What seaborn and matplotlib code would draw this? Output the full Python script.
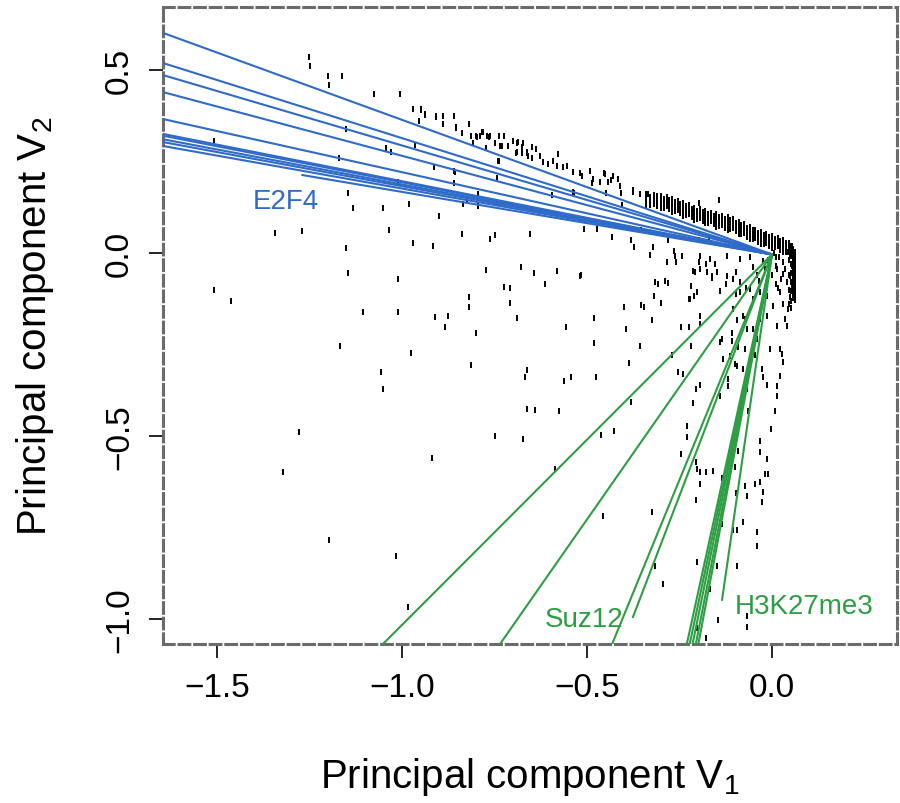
import matplotlib
matplotlib.use("Agg")
import matplotlib.pyplot as plt
import seaborn as sns

# scattered genes
cloud_x = [
    -1.251, -1.249, -1.200, -1.197, -1.162, -1.076, -1.005, -0.970, -0.949, -0.938,
    -0.954, -0.908, -0.889, -0.859, -0.889, -0.854, -0.838, -0.819, -0.814, -0.800,
    -0.784, -0.770, -0.762, -0.738, -0.724, -0.700, -0.686, -0.673, -0.749, -0.730,
    -0.714, -0.692, -0.676, -0.662, -0.808, -0.773, -1.508, -1.151, -1.043, -1.030,
    -0.965, -1.170, -0.914, -0.859, -0.859, -0.743, -0.738, -1.146, -1.132, -1.051,
    -1.011, -0.981, -0.900, -0.835, -0.824, -0.795, -0.795, -0.743, -1.343, -1.270,
    -1.151, -1.035, -0.970, -0.916, -0.838, -0.762, -0.749, -0.654,
    -0.949, -0.938, -0.908, -0.854, -0.797, -0.789, -0.781, -0.765, -0.735, -0.689,
    -0.676, -0.689, -0.662, -0.649, -0.638, -0.659, -0.649, -0.627, -0.619, -0.605,
    -0.592, -0.578, -0.581, -0.565, -0.554, -0.538, -0.514, -0.492, -0.484, -0.465,
    -0.451, -0.443, -0.430, -0.416, -0.411, -0.376, -0.357, -0.335, -0.311, -0.538,
    -0.741, -0.857, -0.795, -0.595,
    -1.146, -1.011, -1.508, -1.462, -1.105, -1.011, -0.911, -0.876, -0.884, -1.168,
    -0.976, -1.057, -1.051, -1.278, -0.919, -1.322, -1.197, -1.016, -0.984,
    -0.773, -0.678, -0.643, -0.581, -0.516, -0.819, -0.819, -0.724, -0.708, -0.708,
    -0.614, -0.689, -0.800, -0.814, -0.662, -0.668, -0.557, -0.481, -0.481, -0.543,
    -0.562, -0.476, -0.662, -0.641, -0.576, -0.749, -0.673, -0.586, -0.462, -0.427,
    -0.381, -0.386, -0.357, -0.395, -0.400, -0.324, -0.354, -0.346, -0.300, -0.319,
    -0.316, -0.289, -0.330, -0.284, -0.259, -0.265, -0.270, -0.254, -0.241, -0.219,
    -0.246, -0.224, -0.219, -0.224, -0.211, -0.214, -0.197, -0.178, -0.195, -0.195,
    -0.205, -0.195, -0.214, -0.230, -0.230, -0.246, -0.205, -0.203, -0.195, -0.178,
    -0.159, -0.195, -0.205, -0.324, -0.457, -0.135, -0.135, -0.105, -0.078, -0.100,
    -0.092, -0.073, -0.097, -0.068, -0.119, -0.141, -0.078, -0.095, -0.114, -0.132,
    -0.108, -0.108, -0.135, -0.141, -0.105, -0.095, -0.078, -0.068, -0.065, -0.068,
    -0.295, -0.316, -0.203, -0.149, -0.168, -0.146, -0.203, -0.178, -0.068, -0.068,
    -0.095, -0.041, -0.041, -0.095, -0.046, -0.024, -0.027, -0.032, -0.019, -0.011,
    -0.032, -0.014, -0.032, -0.003, 0.008, 0.014, 0.014, -0.014, -0.024, -0.027,
    0.022, 0.027, 0.022, 0.030, -0.005, -0.046, -0.059, -0.041, -0.051, 0.014,
    0.035, 0.041, -0.032, -0.014, 0.003, 0.030, 0.043, 0.049, 0.054, 0.049,
    0.054, 0.041, 0.014, 0.022, -0.014, -0.032, -0.051, -0.086, -0.059, -0.086,
    -0.105, -0.122, -0.149, -0.162, -0.176, -0.195, -0.122, -0.086, -0.059, -0.168,
    -0.154, -0.195, -0.243, -0.203, -0.222, -0.073, -0.073, -0.119, -0.100, -0.092,
    -0.535, -0.519, -0.486, -0.454, -0.449, -0.435, -0.408, -0.405, -0.376, -0.354,
    -0.432, -0.381, -0.322, -0.281, -0.262, -0.197, -0.170, -0.143, -0.197, -0.519,
    -0.508, -0.473, -0.373, -0.308, -0.281, -0.208, -0.162, -0.124, -0.097, -0.051,
    -0.024, 0.011, 0.030, 0.057, 0.011, -0.035, -0.070, -0.097, -0.141,
    0.005, 0.020, 0.030, -0.010, 0.010, 0.035, -0.020, 0.000, 0.025, -0.040,
    0.040, 0.015,
]
cloud_y = [
    0.536, 0.511, 0.484, 0.459, 0.484, 0.434, 0.434, 0.393, 0.393, 0.380,
    0.361, 0.374, 0.374, 0.374, 0.352, 0.344, 0.328, 0.352, 0.320, 0.320,
    0.331, 0.320, 0.320, 0.320, 0.320, 0.306, 0.303, 0.301, 0.301, 0.292,
    0.292, 0.273, 0.273, 0.273, 0.301, 0.287, 0.306, 0.339, 0.287, 0.276,
    0.295, 0.260, 0.235, 0.224, 0.191, 0.205, 0.251, 0.164, 0.123, 0.123,
    0.194, 0.134, 0.101, 0.134, 0.148, 0.156, 0.128, 0.139, 0.055, 0.060,
    0.014, 0.063, 0.027, 0.019, 0.052, 0.038, 0.049, 0.052,
    0.391, 0.377, 0.372, 0.342, 0.317, 0.320, 0.331, 0.317, 0.292, 0.301,
    0.290, 0.276, 0.276, 0.290, 0.284, 0.265, 0.260, 0.265, 0.249, 0.243,
    0.251, 0.270, 0.238, 0.235, 0.238, 0.221, 0.210, 0.224, 0.202, 0.194,
    0.216, 0.194, 0.210, 0.202, 0.183, 0.167, 0.161, 0.161, 0.156, 0.167,
    0.251, 0.221, 0.161, 0.158,
    -0.055, -0.071, -0.101, -0.131, -0.161, -0.161, -0.175, -0.172, -0.202, -0.254,
    -0.273, -0.325, -0.372, -0.489, -0.560, -0.598, -0.784, -0.828, -0.967,
    -0.046, -0.038, -0.055, -0.049, -0.060, -0.120, -0.148, -0.093, -0.096, -0.137,
    -0.085, -0.178, -0.219, -0.306, -0.320, -0.339, -0.202, -0.178, -0.246, -0.339,
    -0.350, -0.339, -0.426, -0.429, -0.432, -0.500, -0.508, -0.590, -0.497, -0.486,
    -0.407, -0.301, -0.254, -0.208, -0.148, -0.183, -0.142, -0.148, -0.137, -0.117,
    -0.079, -0.077, -0.005, -0.025, -0.025, 0.005, -0.279, -0.325, -0.331, -0.254,
    -0.202, -0.202, -0.090, -0.126, -0.117, -0.049, -0.025, -0.030, -0.172, -0.194,
    -0.372, -0.361, -0.410, -0.473, -0.503, -0.549, -0.571, -0.590, -0.598, -0.598,
    -0.596, -0.631, -0.675, -0.708, -0.719, -0.615, -0.740, -0.757, -0.735, -0.585,
    -0.541, -0.637, -0.656, -0.664, -0.363, -0.391, -0.317, -0.309, -0.281, -0.290,
    -0.219, -0.240, -0.235, -0.243, -0.153, -0.183, -0.172, -0.208, -0.432, -0.372,
    -0.904, -0.855, -0.844, -0.855, -0.918, -1.003, -1.025, -1.052, -1.022, -0.992,
    -0.855, -0.801, -0.762, -0.757, -0.631, -0.653, -0.680, -0.626, -0.604, -0.604,
    -0.544, -0.563, -0.514, -0.481, -0.432, -0.391, -0.363, -0.361, -0.339, -0.317,
    -0.336, -0.276, -0.262, -0.298, -0.262, -0.279, -0.290, -0.235, -0.208, -0.199,
    -0.180, -0.199, -0.180, -0.172, -0.145, -0.139, -0.153, -0.120, -0.090, -0.063,
    -0.036, 0.003, -0.044, -0.107, -0.117, -0.107, -0.126, -0.107, -0.098, -0.079,
    -0.071, -0.063, -0.052, -0.063, -0.052, -0.044, -0.008, -0.016, -0.011, -0.016,
    -0.030, -0.008, -0.008, -0.107, -0.126, -0.180, -0.262, -0.344, -0.303, -0.257,
    0.164, 0.219, 0.191, 0.219, 0.164, 0.199, 0.164, 0.131, 0.172, 0.063,
    0.044, 0.036, 0.016, 0.036, -0.008, 0.036, 0.044, 0.145, 0.137, -0.063,
    0.066, 0.066, 0.016, -0.085, -0.082, -0.052, -0.068, -0.085, -0.052, -0.038,
    -0.022, -0.011, -0.057, -0.096, -0.085, -0.077, -0.096, -0.112, -0.104,
    0.000, -0.010, -0.025, -0.020, -0.035, -0.045, -0.045, -0.060, -0.070, -0.060,
    -0.080, -0.095,
]

# dense ridge of genes running into the origin, plus the right-hand edge
band_x = [
    -0.34, -0.34, -0.34, -0.34, -0.32, -0.32, -0.32, -0.30, -0.30, -0.30, -0.30,
    -0.285, -0.285, -0.285, -0.27, -0.27, -0.27, -0.27, -0.255, -0.255, -0.255,
    -0.24, -0.24, -0.24, -0.24, -0.225, -0.225, -0.225, -0.21, -0.21, -0.21, -0.21,
    -0.195, -0.195, -0.195, -0.18, -0.18, -0.18, -0.18, -0.165, -0.165, -0.165,
    -0.15, -0.15, -0.15, -0.15, -0.135, -0.135, -0.135, -0.12, -0.12, -0.12, -0.12,
    -0.105, -0.105, -0.105, -0.09, -0.09, -0.09, -0.09, -0.075, -0.075, -0.075,
    -0.06, -0.06, -0.06, -0.06, -0.045, -0.045, -0.045, -0.03, -0.03, -0.03, -0.03,
    -0.015, -0.015, -0.015, 0.0, 0.0, 0.0, 0.0, 0.015, 0.015, 0.015,
    0.03, 0.03, 0.03, 0.03, 0.045, 0.045, 0.045, 0.055, 0.055, 0.055,
    -0.33, -0.33, -0.33, -0.31, -0.31, -0.31, -0.2925, -0.2925, -0.2925,
    -0.2775, -0.2775, -0.2775, -0.2625, -0.2625, -0.2625, -0.2475, -0.2475, -0.2475,
    -0.2325, -0.2325, -0.2325, -0.2175, -0.2175, -0.2175, -0.2025, -0.2025, -0.2025,
    -0.1875, -0.1875, -0.1875, -0.1725, -0.1725, -0.1725, -0.1575, -0.1575, -0.1575,
    -0.1425, -0.1425, -0.1425, -0.1275, -0.1275, -0.1275, -0.1125, -0.1125, -0.1125,
    -0.0975, -0.0975, -0.0975, -0.0825, -0.0825, -0.0825, -0.0675, -0.0675, -0.0675,
    -0.0525, -0.0525, -0.0525, -0.0375, -0.0375, -0.0375, -0.0225, -0.0225, -0.0225,
    -0.0075, -0.0075, -0.0075, 0.0075, 0.0075, 0.0075, 0.0225, 0.0225, 0.0225,
    0.0375, 0.0375, 0.0375, 0.05, 0.05, 0.05,
    0.058, 0.058, 0.058, 0.058, 0.058, 0.058, 0.058, 0.058, 0.058, 0.058, 0.058, 0.058,
    0.061, 0.061, 0.061, 0.061, 0.061, 0.061, 0.061, 0.061, 0.061, 0.061, 0.061, 0.061,
    0.052, 0.052, 0.052, 0.052, 0.052, 0.052, 0.052, 0.045, 0.045, 0.045, 0.045,
]
band_y = [
    0.162, 0.150, 0.138, 0.128, 0.158, 0.146, 0.134, 0.156, 0.144, 0.132, 0.122,
    0.152, 0.140, 0.128, 0.147, 0.135, 0.123, 0.113, 0.141, 0.129, 0.117,
    0.136, 0.124, 0.112, 0.102, 0.130, 0.118, 0.106, 0.124, 0.112, 0.100, 0.090,
    0.119, 0.107, 0.095, 0.115, 0.103, 0.091, 0.081, 0.110, 0.098, 0.086,
    0.106, 0.094, 0.082, 0.072, 0.101, 0.089, 0.077, 0.097, 0.085, 0.073, 0.063,
    0.092, 0.080, 0.068, 0.085, 0.073, 0.061, 0.051, 0.078, 0.066, 0.054,
    0.071, 0.059, 0.047, 0.037, 0.064, 0.052, 0.040, 0.058, 0.046, 0.034, 0.024,
    0.052, 0.040, 0.028, 0.047, 0.035, 0.023, 0.013, 0.042, 0.030, 0.018,
    0.036, 0.024, 0.012, 0.002, 0.027, 0.015, 0.003, 0.020, 0.008, -0.004,
    0.154, 0.142, 0.130, 0.151, 0.139, 0.127, 0.148, 0.136, 0.124,
    0.144, 0.132, 0.120, 0.138, 0.126, 0.114, 0.133, 0.121, 0.109,
    0.127, 0.115, 0.103, 0.121, 0.109, 0.097, 0.116, 0.104, 0.092,
    0.111, 0.099, 0.087, 0.107, 0.095, 0.083, 0.102, 0.090, 0.078,
    0.098, 0.086, 0.074, 0.093, 0.081, 0.069, 0.089, 0.077, 0.065,
    0.083, 0.071, 0.059, 0.076, 0.064, 0.052, 0.069, 0.057, 0.045,
    0.062, 0.050, 0.038, 0.055, 0.043, 0.031, 0.049, 0.037, 0.025,
    0.044, 0.032, 0.020, 0.039, 0.027, 0.015, 0.033, 0.021, 0.009,
    0.026, 0.014, 0.002, 0.018, 0.006, -0.006,
    0.010, -0.002, -0.014, -0.026, -0.038, -0.050, -0.062, -0.074, -0.086, -0.098, -0.110, -0.122,
    0.004, -0.008, -0.020, -0.032, -0.044, -0.056, -0.068, -0.080, -0.092, -0.104, -0.116, -0.128,
    -0.008, -0.030, -0.055, -0.080, -0.105, -0.130, -0.150, -0.020, -0.060, -0.100, -0.140,
]

# loading vectors drawn from the origin
origin = (0.0, -0.004)
e2f4_x = [-1.70, -1.70, -1.70, -1.70, -1.70, -1.70, -1.70, -1.70, -1.70, -1.70, -1.27]
e2f4_y = [0.621, 0.536, 0.502, 0.454, 0.378, 0.336, 0.331, 0.321, 0.313, 0.302, 0.213]
k27_x = [-1.083, -0.757, -0.445, -0.376, -0.237, -0.229, -0.221, -0.212, -0.205, -0.135]
k27_y = [-1.10, -1.10, -1.10, -0.995, -1.10, -1.10, -1.10, -1.10, -1.10, -0.948]

labels = ["E2F4", "Suz12", "H3K27me3"]
label_x = [-1.403, -0.614, -0.100]
label_y = [0.142, -1.000, -0.964]

xticks = [-1.5, -1.0, -0.5, 0.0]
xticklabels = ["\u22121.5", "\u22121.0", "\u22120.5", "0.0"]
yticks = [-1.0, -0.5, 0.0, 0.5]
yticklabels = ["\u22121.0", "\u22120.5", "0.0", "0.5"]

BLUE = "#2f6bc9"
GREEN = "#2e9e44"

sns.set_style("ticks")
plt.rcParams["font.family"] = ["Liberation Sans", "DejaVu Sans"]
plt.rcParams["mathtext.fontset"] = "custom"
plt.rcParams["mathtext.rm"] = "Liberation Sans"
plt.rcParams["text.color"] = "black"
plt.rcParams["axes.labelcolor"] = "black"
plt.rcParams["xtick.color"] = "black"
plt.rcParams["ytick.color"] = "black"

fig = plt.figure(figsize=(9, 8.04), dpi=100)
ax = fig.add_axes([0.1811, 0.1978, 0.8156, 0.7923])

sns.scatterplot(x=cloud_x + band_x, y=cloud_y + band_y, marker="|", s=16,
                color="black", linewidth=1.4, ax=ax, legend=False, zorder=2)

for ex, ey in zip(e2f4_x, e2f4_y):
    ax.plot([origin[0], ex], [origin[1], ey], color=BLUE, lw=1.5, zorder=3)
for ex, ey in zip(k27_x, k27_y):
    ax.plot([origin[0], ex], [origin[1], ey], color=GREEN, lw=1.5, zorder=3)

for txt, tx, ty, col in zip(labels, label_x, label_y, [BLUE, GREEN, GREEN]):
    ax.text(tx, ty, txt, color=col, fontsize=20, va="center", ha="left", zorder=4)

ax.set_xlim(-1.646, 0.338)
ax.set_ylim(-1.068, 0.672)
ax.set_xticks(xticks)
ax.set_xticklabels(xticklabels)
ax.set_yticks(yticks)
ax.set_yticklabels(yticklabels)
ax.tick_params(direction="out", length=10, width=1.2, colors="black",
               labelsize=24, pad=10)
for lbl in ax.get_yticklabels():
    lbl.set_rotation(90)
    lbl.set_va("center")

for sp in ax.spines.values():
    sp.set_visible(True)
    sp.set_linestyle((0, (3.5, 1.6)))
    sp.set_color("#6b6b6b")
    sp.set_linewidth(2.2)

ax.set_xlabel("Principal component V$\\mathregular{_1}$", fontsize=29, va="center")
ax.xaxis.set_label_coords(0.5, -0.207)
ax.set_ylabel("Principal component V$\\mathregular{_2}$", fontsize=29, ha="center", va="center")
ax.yaxis.set_label_coords(-0.174, 0.5)

fig.savefig("out.png", dpi=100)
